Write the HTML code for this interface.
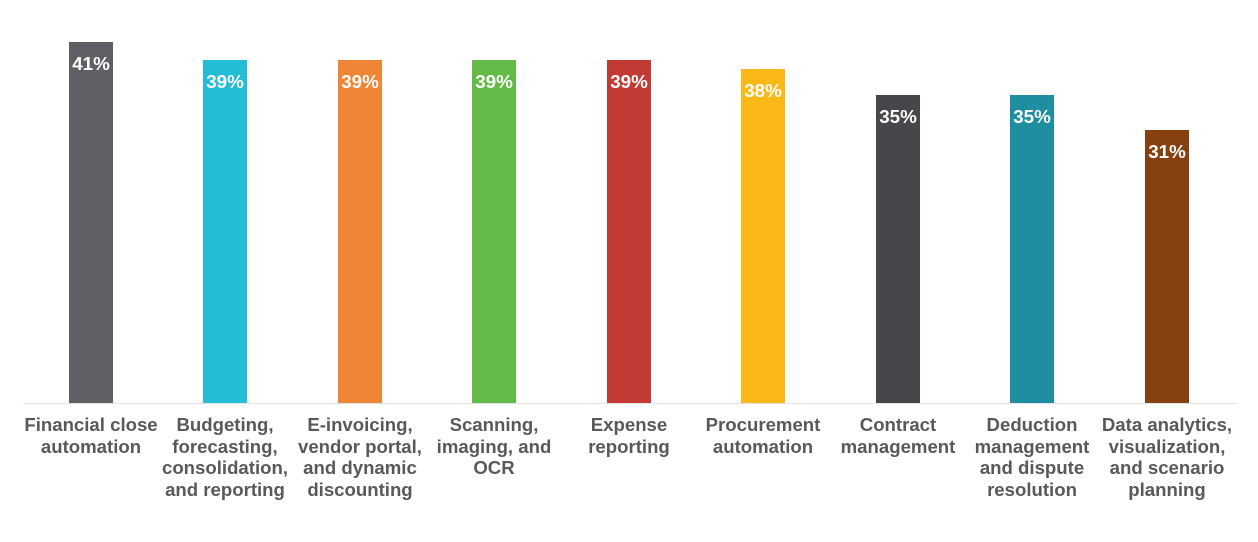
<!DOCTYPE html>
<html><head><meta charset="utf-8"><style>
body{margin:0;background:#fff;width:1258px;height:542px;overflow:hidden;position:relative;font-family:"Liberation Sans",Arial,sans-serif}
.bar{position:absolute;width:44px;bottom:139px}
.v{position:absolute;width:80px;margin-left:-18px;text-align:center;color:#fff;font-weight:bold;font-size:18.8px;top:11px}
.l{position:absolute;top:414px;width:140px;text-align:center;color:#595959;font-weight:bold;font-size:18.6px;line-height:21.6px}
.axis{position:absolute;left:23px;width:1213px;top:403px;height:1px;background:#e3e3e3}
</style></head><body>
<div class="axis"></div>
<div class="bar" style="left:69px;height:361px;background:#5f6064"><div class="v">41%</div></div>
<div class="bar" style="left:203px;height:343px;background:#25bdd6"><div class="v">39%</div></div>
<div class="bar" style="left:338px;height:343px;background:#ef8636"><div class="v">39%</div></div>
<div class="bar" style="left:472px;height:343px;background:#63ba46"><div class="v">39%</div></div>
<div class="bar" style="left:607px;height:343px;background:#c23a33"><div class="v">39%</div></div>
<div class="bar" style="left:741px;height:334px;background:#fbb918"><div class="v">38%</div></div>
<div class="bar" style="left:876px;height:308px;background:#46474b"><div class="v">35%</div></div>
<div class="bar" style="left:1010px;height:308px;background:#1e8ea0"><div class="v">35%</div></div>
<div class="bar" style="left:1145px;height:273px;background:#87400f"><div class="v">31%</div></div>
<div class="l" style="left:21px">Financial close automation</div>
<div class="l" style="left:155px">Budgeting, forecasting, consolidation, and reporting</div>
<div class="l" style="left:290px">E-invoicing, vendor portal, and dynamic discounting</div>
<div class="l" style="left:424px">Scanning, imaging, and OCR</div>
<div class="l" style="left:559px">Expense reporting</div>
<div class="l" style="left:693px">Procurement automation</div>
<div class="l" style="left:828px">Contract management</div>
<div class="l" style="left:962px">Deduction management and dispute resolution</div>
<div class="l" style="left:1097px">Data analytics, visualization, and scenario planning</div>
</body></html>
